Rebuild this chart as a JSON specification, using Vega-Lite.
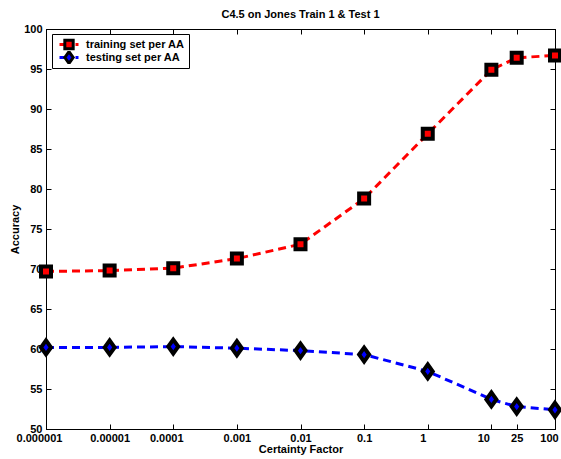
{
  "$schema": "https://vega.github.io/schema/vega-lite/v6.json",
  "autosize": {"type": "none"},
  "width": 509,
  "height": 400,
  "padding": {"left": 46, "top": 29, "right": 6, "bottom": 30},
  "background": "white",
  "title": {"text": "C4.5 on Jones Train 1 & Test 1", "font": "Liberation Sans", "fontSize": 11, "fontWeight": "bold", "color": "black", "offset": 3, "anchor": "middle"},
  "config": {
    "view": {"stroke": "black", "strokeWidth": 1},
    "axis": {"labelFont": "Liberation Sans", "labelFontSize": 11, "labelFontWeight": "bold", "labelColor": "black", "titleFont": "Liberation Sans", "titleFontSize": 11, "titleFontWeight": "bold", "titleColor": "black", "domainColor": "black", "tickColor": "black", "grid": false, "labelFlush": false, "labelOverlap": false},
    "legend": {"orient": "none", "legendX": 6, "legendY": 5, "title": null, "padding": 4, "labelFont": "Liberation Sans", "labelFontSize": 11, "labelFontWeight": "bold", "labelColor": "black", "rowPadding": 0, "clipHeight": 13}
  },
  "data": {"values": [
    {"cf": 0.000001, "acc": 69.7, "series": "training set per AA"},
    {"cf": 0.00001, "acc": 69.8, "series": "training set per AA"},
    {"cf": 0.0001, "acc": 70.1, "series": "training set per AA"},
    {"cf": 0.001, "acc": 71.3, "series": "training set per AA"},
    {"cf": 0.01, "acc": 73.1, "series": "training set per AA"},
    {"cf": 0.1, "acc": 78.8, "series": "training set per AA"},
    {"cf": 1, "acc": 86.9, "series": "training set per AA"},
    {"cf": 10, "acc": 94.9, "series": "training set per AA"},
    {"cf": 25, "acc": 96.4, "series": "training set per AA"},
    {"cf": 100, "acc": 96.7, "series": "training set per AA"},
    {"cf": 0.000001, "acc": 60.2, "series": "testing set per AA"},
    {"cf": 0.00001, "acc": 60.2, "series": "testing set per AA"},
    {"cf": 0.0001, "acc": 60.3, "series": "testing set per AA"},
    {"cf": 0.001, "acc": 60.1, "series": "testing set per AA"},
    {"cf": 0.01, "acc": 59.8, "series": "testing set per AA"},
    {"cf": 0.1, "acc": 59.3, "series": "testing set per AA"},
    {"cf": 1, "acc": 57.2, "series": "testing set per AA"},
    {"cf": 10, "acc": 53.7, "series": "testing set per AA"},
    {"cf": 25, "acc": 52.8, "series": "testing set per AA"},
    {"cf": 100, "acc": 52.4, "series": "testing set per AA"}
  ]},
  "resolve": {"axis": {"x": "independent", "y": "independent"}},
  "layer": [
    {
      "mark": {"type": "line", "strokeWidth": 3, "strokeDash": [8, 5]},
      "encoding": {
        "x": {"field": "cf", "type": "quantitative", "scale": {"type": "log", "domain": [0.000001, 100], "nice": false},
          "axis": {"orient": "bottom", "values": [0.000001, 0.00001, 0.0001, 0.001, 0.01, 0.1, 1, 10, 25, 100], "format": "~f", "tickSize": -5, "labelPadding": 8,
            "labelOffset": {"expr": "datum.value < 0.000002 ? -7 : (datum.value > 0.00005 && datum.value < 0.0002) ? -7 : datum.value == 1 ? -5 : datum.value == 10 ? -8 : datum.value == 100 ? -6 : 0"},
            "title": "Certainty Factor", "titlePadding": 0}},
        "y": {"field": "acc", "type": "quantitative", "scale": {"domain": [50, 100], "nice": false, "zero": false},
          "axis": {"orient": "left", "values": [50, 55, 60, 65, 70, 75, 80, 85, 90, 95, 100], "tickSize": -5, "labelPadding": 9, "title": "Accuracy", "titlePadding": 3}},
        "stroke": {"field": "series", "type": "nominal", "scale": {"domain": ["testing set per AA", "training set per AA"], "range": ["#0000ff", "#ff0000"]},
          "legend": {"values": ["training set per AA", "testing set per AA"], "zindex": 0, "symbolType": "stroke", "symbolSize": 361, "symbolStrokeWidth": 3, "symbolDash": [5, 3], "symbolOffset": 2, "labelOffset": 6, "labelOpacity": 0, "fillColor": "white", "strokeColor": "black"}},
        "detail": {"field": "series"}
      }
    },
    {
      "mark": {"type": "point", "filled": true, "size": 100, "stroke": "black", "strokeWidth": 4, "opacity": 1},
      "encoding": {
        "x": {"field": "cf", "type": "quantitative", "scale": {"type": "log", "domain": [0.000001, 100], "nice": false},
          "axis": {"orient": "top", "values": [0.000001, 0.00001, 0.0001, 0.001, 0.01, 0.1, 1, 10, 25, 100], "labels": false, "tickSize": -5, "title": null}},
        "y": {"field": "acc", "type": "quantitative", "scale": {"domain": [50, 100], "nice": false, "zero": false},
          "axis": {"orient": "right", "values": [50, 55, 60, 65, 70, 75, 80, 85, 90, 95, 100], "labels": false, "tickSize": -5, "title": null}},
        "color": {"field": "series", "type": "nominal", "scale": {"domain": ["training set per AA", "testing set per AA"], "range": ["#ff0000", "#0000ff"]},
          "legend": {"zindex": 1, "symbolSize": 70, "symbolOffset": 7, "labelOffset": 11, "symbolStrokeColor": "black", "symbolStrokeWidth": 3,
            "encode": {"symbols": {"update": {"stroke": {"value": "black"}, "strokeWidth": {"value": 3}}}}}},
        "shape": {"field": "series", "type": "nominal", "scale": {"domain": ["training set per AA", "testing set per AA"], "range": ["square", "M0,-1.4L1,0L0,1.4L-1,0Z"]},
          "legend": {"zindex": 1, "symbolSize": 70, "symbolOffset": 7, "labelOffset": 11, "symbolStrokeColor": "black", "symbolStrokeWidth": 3,
            "encode": {"symbols": {"update": {"stroke": {"value": "black"}, "strokeWidth": {"value": 3}}}}}}
      }
    }
  ]
}
